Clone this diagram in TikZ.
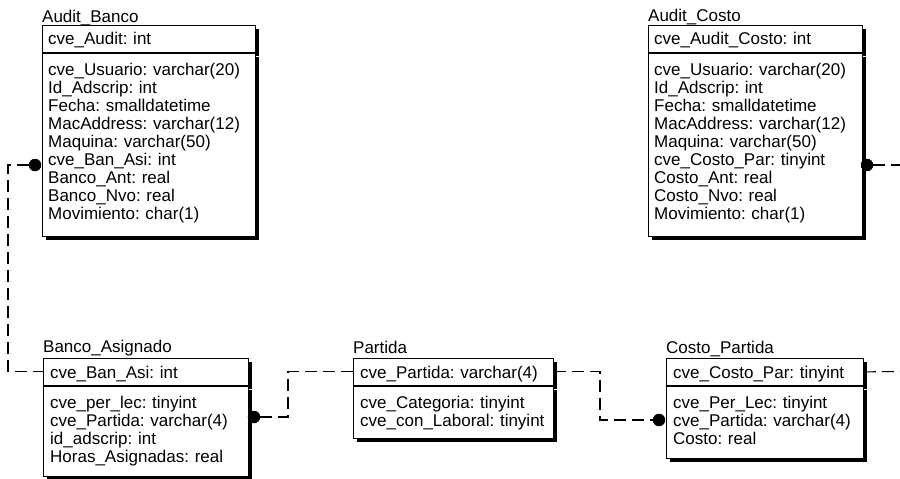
\documentclass[tikz,border=0pt]{standalone}
\usepackage{fontspec}
\setmainfont{Liberation Sans}
\usetikzlibrary{shadows,calc}
\frenchspacing
\tikzset{
  ent/.style={draw, line width=0.8pt, fill=white, anchor=north west, inner sep=0pt,
    drop shadow={shadow xshift=4pt, shadow yshift=-4pt, opacity=1, fill=black}},
  lbl/.style={anchor=base west, inner sep=0pt, font=\fontsize{17}{18}\selectfont},
  rows/.style={anchor=base west, inner sep=0pt, text width=215pt, align=left, font=\fontsize{17}{18}\selectfont},
  rel/.style={line width=1.1pt, dash pattern=on 12pt off 6pt},
  fk/.style={circle, fill=black, inner sep=0pt, minimum size=12.5pt},
}
\begin{document}
\begin{tikzpicture}[x=1pt, y=-1pt]
\useasboundingbox (0,0) rectangle (900,479);

% ---------- Audit_Banco ----------
\node[lbl] (abt) at (42,22) {Audit\_Banco};
\node[ent, minimum width=213pt, minimum height=27pt] (abk) at (42,25) {};
\node[ent, minimum width=213pt, minimum height=183pt] (aba) at (abk.south west) {};
\node[rows] (abkt) at ([shift={(6,20)}]abk.north west) {cve\_Audit: int};
\node[rows] (abat) at ([shift={(6,22.5)}]aba.north west) {cve\_Usuario: varchar(20)\\Id\_Adscrip: int\\Fecha: smalldatetime\\MacAddress: varchar(12)\\Maquina: varchar(50)\\cve\_Ban\_Asi: int\\Banco\_Ant: real\\Banco\_Nvo: real\\Movimiento: char(1)};

% ---------- Audit_Costo ----------
\node[lbl] (act) at (648,21) {Audit\_Costo};
\node[ent, minimum width=214pt, minimum height=27pt] (ack) at (648,25) {};
\node[ent, minimum width=214pt, minimum height=183pt] (aca) at (ack.south west) {};
\node[rows] (ackt) at ([shift={(6,20)}]ack.north west) {cve\_Audit\_Costo: int};
\node[rows] (acat) at ([shift={(6,22.5)}]aca.north west) {cve\_Usuario: varchar(20)\\Id\_Adscrip: int\\Fecha: smalldatetime\\MacAddress: varchar(12)\\Maquina: varchar(50)\\cve\_Costo\_Par: tinyint\\Costo\_Ant: real\\Costo\_Nvo: real\\Movimiento: char(1)};

% ---------- Banco_Asignado ----------
\node[lbl] (bat) at (43,352) {Banco\_Asignado};
\node[ent, minimum width=205pt, minimum height=27pt] (bak) at (43,358) {};
\node[ent, minimum width=205pt, minimum height=90pt] (baa) at (bak.south west) {};
\node[rows] (bakt) at ([shift={(7,20)}]bak.north west) {cve\_Ban\_Asi: int};
\node[rows] (baat) at ([shift={(7,22.5)}]baa.north west) {cve\_per\_lec: tinyint\\cve\_Partida: varchar(4)\\id\_adscrip: int\\Horas\_Asignadas: real};

% ---------- Partida ----------
\node[lbl] (pt) at (353,353) {Partida};
\node[ent, minimum width=200pt, minimum height=27pt] (pk) at (353,358) {};
\node[ent, minimum width=200pt, minimum height=52pt] (pa) at (pk.south west) {};
\node[rows] (pkt) at ([shift={(7,20)}]pk.north west) {cve\_Partida: varchar(4)};
\node[rows] (pat) at ([shift={(7,22.5)}]pa.north west) {cve\_Categoria: tinyint\\cve\_con\_Laboral: tinyint};

% ---------- Costo_Partida ----------
\node[lbl] (cpt) at (666,353) {Costo\_Partida};
\node[ent, minimum width=197pt, minimum height=27pt] (cpk) at (666,358) {};
\node[ent, minimum width=197pt, minimum height=72pt] (cpa) at (cpk.south west) {};
\node[rows] (cpkt) at ([shift={(7,20)}]cpk.north west) {cve\_Costo\_Par: tinyint};
\node[rows] (cpat) at ([shift={(7,22.5)}]cpa.north west) {cve\_Per\_Lec: tinyint\\cve\_Partida: varchar(4)\\Costo: real};

% ---------- foreign-key dots ----------
\node[fk] (abd) at (35,165) {};
\node[fk] (acd) at (867,165) {};
\node[fk] (bad) at (254,417) {};
\node[fk] (cpd) at (659,420) {};

\coordinate (edgeA) at (900,165);
\coordinate (edgeB) at (900,371.5);

% ---------- relationships ----------
\draw[rel] (abd) -- (8,165) |- (bak.west);
\draw[rel] (bad) -- (288,417) |- (pk.west);
\draw[rel] (pk.east) -| (600,420) -- (cpd);
\draw[rel] (cpk.east) -- (edgeB);
\draw[rel] (acd) -- (edgeA);
\end{tikzpicture}
\end{document}
